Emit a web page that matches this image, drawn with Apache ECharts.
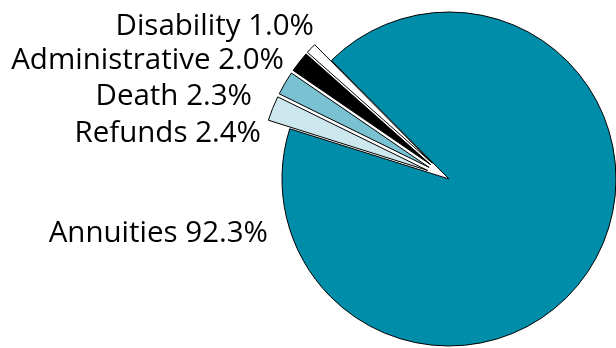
<!DOCTYPE html>
<html>
<head>
<meta charset="utf-8">
<script src="https://cdn.jsdelivr.net/npm/echarts@6/dist/echarts.min.js"></script>
<style>
  html, body { margin: 0; padding: 0; background: #fff; }
  #chart { width: 616px; height: 348px; }
</style>
</head>
<body>
<div id="chart"></div>
<script>
  // slice data, clockwise from the left edge of the small slices
  var names = ['Refunds', 'Death', 'Administrative', 'Disability', 'Annuities']
  var shares = [2.4, 2.3, 2.0, 1.0, 92.3]
  var pulledOut = [true, true, true, true, false]
  var colors = ['#cde7ee', '#7ac2d2', '#000000', '#ffffff', '#008da9']

  // where each label ends (right edge, cap middle)
  var labelAnchors = [[261, 134], [252, 97], [284, 61], [314, 27], [268, 234]]

  var chart = echarts.init(document.getElementById('chart'))

  var data = []
  var labels = []
  for (var i = 0; i < names.length; i++) {
    data.push({
      name: names[i],
      value: shares[i],
      selected: pulledOut[i],
      itemStyle: { color: colors[i] }
    })
    labels.push({
      type: 'text',
      x: labelAnchors[i][0],
      y: labelAnchors[i][1],
      style: {
        text: names[i] + ' ' + shares[i].toFixed(1) + '%',
        fill: '#000',
        font: '29.5px "Open Sans"',
        textAlign: 'right',
        textVerticalAlign: 'middle'
      }
    })
  }

  var option = {
    animation: false,
    graphic: labels,
    series: [
      {
        type: 'pie',
        center: [449, 179],
        radius: [0, 167],
        startAngle: 162.5,
        clockwise: true,
        selectedMode: 'multiple',
        selectedOffset: 23,
        itemStyle: {
          borderColor: '#000',
          borderWidth: 1
        },
        emphasis: { disabled: true },
        label: { show: false },
        labelLine: { show: false },
        data: data
      }
    ]
  }
  chart.setOption(option)
</script>
</body>
</html>
